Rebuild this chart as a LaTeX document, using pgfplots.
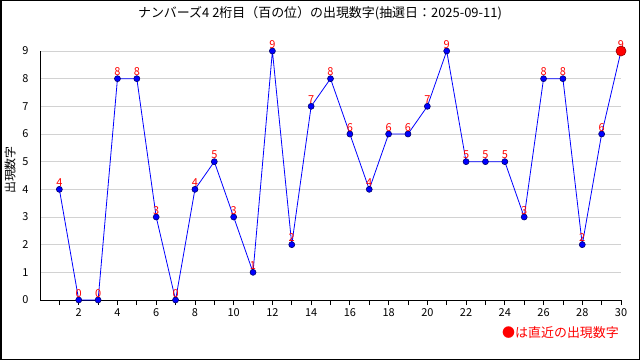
\documentclass[border=0pt]{standalone}
\usepackage{pgfplots}
\pgfplotsset{compat=1.18}
\usepackage{fontspec}
\setmainfont{Noto Sans CJK JP}
\definecolor{navy}{RGB}{0,0,110}
\definecolor{dred}{RGB}{150,0,0}
\begin{document}
\begin{tikzpicture}[x=1bp,y=1bp]
\fill[white] (0,0) rectangle (640,360);
\draw[black, line width=1.5bp] (0.75,0.75) rectangle (639.25,359.25);
\node[font=\fontsize{13}{15}\selectfont] at (320,347) {ナンバーズ4 2桁目（百の位）の出現数字(抽選日：2025-09-11)};
\node[font=\fontsize{12}{14}\selectfont, rotate=90] at (10,190) {出現数字};
\node[font=\fontsize{13}{15}\selectfont, text=red, anchor=east, inner sep=0] at (619,27) {●は直近の出現数字};
\begin{axis}[at={(40bp,60bp)}, anchor=south west, scale only axis,
  width=581bp, height=249bp,
  xmin=0, xmax=30, ymin=0, ymax=9,
  axis lines=left, axis line style={-, black, line width=0.8bp},
  xtick={2,4,...,30}, minor xtick={1,3,...,29},
  ytick={0,1,...,9},
  tick align=outside, major tick length=5bp, minor tick length=5bp,
  xtick style={black, line width=0.8bp}, ytick style={draw=none},
  ymajorgrids, grid style={gray!35, line width=0.8bp},
  ticklabel style={font=\fontsize{11}{13}\selectfont},
  /pgf/number format/assume math mode=true,
  yticklabel style={xshift=-3bp},
  clip=false,
  nodes near coords,
  every node near coord/.append style={font=\fontsize{11}{13}\selectfont, text=red, inner sep=1bp, yshift=1.5bp},
]
\addplot[blue, line width=0.8bp, mark=*, mark size=3bp, mark options={fill=blue, draw=navy, line width=0.6bp}] coordinates {
(1,4) (2,0) (3,0) (4,8) (5,8) (6,3) (7,0) (8,4) (9,5) (10,3)
(11,1) (12,9) (13,2) (14,7) (15,8) (16,6) (17,4) (18,6) (19,6) (20,7)
(21,9) (22,5) (23,5) (24,5) (25,3) (26,8) (27,8) (28,2) (29,6) (30,9)
};
\addplot[only marks, mark=*, mark size=5bp, mark options={fill=red, draw=dred, line width=0.6bp}, nodes near coords={}] coordinates {(30,9)};
\end{axis}
\end{tikzpicture}
\end{document}
